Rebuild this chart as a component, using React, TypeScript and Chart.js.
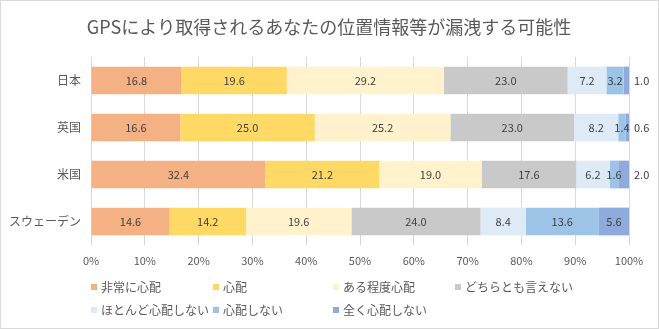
import React, { useEffect, useRef } from 'react';
import { Chart, registerables } from 'chart.js';

Chart.register(...registerables);

const FONT = "'Noto Sans CJK JP', 'Noto Sans', sans-serif";

const TITLE = 'GPSにより取得されるあなたの位置情報等が漏洩する可能性';
const categories = ['日本', '英国', '米国', 'スウェーデン'];
const seriesNames = [
  '非常に心配',
  '心配',
  'ある程度心配',
  'どちらとも言えない',
  'ほとんど心配しない',
  '心配しない',
  '全く心配しない',
];
const veryWorried = [16.8, 16.6, 32.4, 14.6];
const worried = [19.6, 25.0, 21.2, 14.2];
const somewhatWorried = [29.2, 25.2, 19.0, 19.6];
const neither = [23.0, 23.0, 17.6, 24.0];
const hardlyWorried = [7.2, 8.2, 6.2, 8.4];
const notWorried = [3.2, 1.4, 1.6, 13.6];
const notAtAll = [1.0, 0.6, 2.0, 5.6];
const seriesValues = [veryWorried, worried, somewhatWorried, neither, hardlyWorried, notWorried, notAtAll];
const seriesColors = ['#F4B183', '#FFD966', '#FFF2CC', '#C9C9C9', '#DEEBF7', '#9DC3E6', '#8FAADC'];

const TEXT_GRAY = '#595959';
const LABEL_DARK = '#404040';

const bgPlugin = {
  id: 'bgBorder',
  beforeDraw(chart: any) {
    const ctx = chart.ctx;
    ctx.save();
    ctx.fillStyle = '#ffffff';
    ctx.fillRect(0, 0, chart.width, chart.height);
    ctx.restore();
  },
  afterDraw(chart: any) {
    const ctx = chart.ctx;
    ctx.save();
    ctx.strokeStyle = '#d9d9d9';
    ctx.lineWidth = 1;
    ctx.strokeRect(0.5, 0.5, chart.width - 1, chart.height - 1);
    // title
    ctx.fillStyle = TEXT_GRAY;
    ctx.font = `18px ${FONT}`;
    ctx.textAlign = 'center';
    ctx.textBaseline = 'middle';
    ctx.fillText(TITLE, 329, 27);
    // legend
    const cols = [91, 213, 333, 455];
    const rows = [287, 310];
    ctx.font = `12px ${FONT}`;
    ctx.textAlign = 'left';
    seriesNames.forEach((name, i) => {
      const x = cols[i % 4];
      const y = rows[Math.floor(i / 4)];
      ctx.fillStyle = seriesColors[i];
      ctx.fillRect(x, y - 3, 6, 6);
      ctx.fillStyle = TEXT_GRAY;
      ctx.fillText(name, x + 10, y);
    });
    ctx.restore();
  },
};

const labelPlugin = {
  id: 'valueLabels',
  afterDatasetsDraw(chart: any) {
    const ctx = chart.ctx;
    ctx.save();
    ctx.font = `11px ${FONT}`;
    ctx.fillStyle = LABEL_DARK;
    ctx.textBaseline = 'middle';
    const n = chart.data.datasets.length;
    chart.data.datasets.forEach((ds: any, di: number) => {
      const meta = chart.getDatasetMeta(di);
      meta.data.forEach((el: any, i: number) => {
        const v = ds.data[i] as number;
        const { x, y, base } = el.getProps(['x', 'y', 'base'], true);
        const txt = v.toFixed(1);
        if (di === n - 1 && v < 3) {
          ctx.textAlign = 'left';
          ctx.fillText(txt, x + 5, y);
        } else {
          ctx.textAlign = 'center';
          ctx.fillText(txt, (x + base) / 2, y);
        }
      });
    });
    ctx.restore();
  },
};

export default function App() {
  const ref = useRef<HTMLCanvasElement | null>(null);
  useEffect(() => {
    document.body.style.margin = '0';
    const canvas = ref.current;
    if (!canvas) return;
    const chart = new Chart(canvas, {
      type: 'bar',
      data: {
        labels: categories,
        datasets: seriesNames.map((name, i) => ({
          label: name,
          data: seriesValues[i],
          backgroundColor: seriesColors[i],
          borderWidth: 0,
          categoryPercentage: 1,
          barPercentage: 0.59,
        })),
      },
      options: {
        indexAxis: 'y',
        responsive: false,
        animation: false,
        devicePixelRatio: 1,
        layout: { padding: { top: 57, left: 0, right: 30, bottom: 59 } },
        plugins: {
          legend: { display: false },
          title: { display: false },
          tooltip: { enabled: false },
        },
        scales: {
          x: {
            stacked: true,
            min: 0,
            max: 100,
            ticks: {
              stepSize: 10,
              padding: 9,
              color: TEXT_GRAY,
              font: { family: FONT, size: 11 },
              callback: (v: any) => `${v}%`,
            },
            grid: { color: '#d9d9d9', drawTicks: false },
            border: { display: false },
            afterFit: (s: any) => {
              s.height = 25;
            },
          },
          y: {
            stacked: true,
            ticks: {
              padding: 10,
              color: TEXT_GRAY,
              font: { family: FONT, size: 12 },
            },
            grid: { display: false, drawTicks: false },
            border: { display: false },
            afterFit: (s: any) => {
              s.width = 91;
            },
          },
        },
      },
      plugins: [bgPlugin, labelPlugin],
    });
    return () => chart.destroy();
  }, []);
  return (
    <div style={{ width: 659, height: 329 }}>
      <canvas ref={ref} width={659} height={329} style={{ display: 'block' }} />
    </div>
  );
}
